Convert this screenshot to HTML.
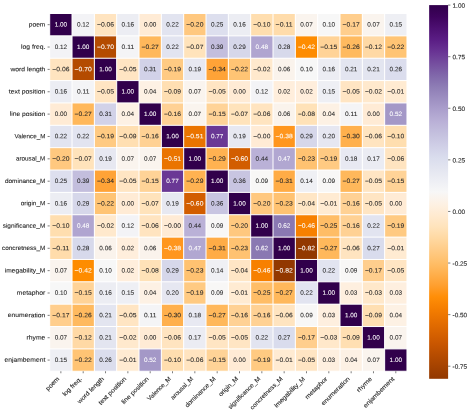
<!DOCTYPE html><html><head><meta charset="utf-8"><style>html,body{margin:0;padding:0;background:#fff;overflow:hidden;}svg{display:block;}text{font-family:"Liberation Sans",sans-serif;}</style></head><body>
<svg width="470" height="412" viewBox="0 0 470 412">
<defs><filter id="tb" x="0" y="0" width="470" height="412" filterUnits="userSpaceOnUse"><feGaussianBlur stdDeviation="0.400"/></filter></defs>
<rect width="470" height="412" fill="#fff"/>
<g>
<rect x="49.70" y="13.50" width="22.33" height="22.36" fill="#31004b"/>
<rect x="72.03" y="13.50" width="22.33" height="22.36" fill="#f3f3f6"/>
<rect x="94.36" y="13.50" width="22.33" height="22.36" fill="#ffe4c0"/>
<rect x="116.69" y="13.50" width="22.33" height="22.36" fill="#ecedf3"/>
<rect x="139.02" y="13.50" width="22.33" height="22.36" fill="#ffebd5"/>
<rect x="161.35" y="13.50" width="22.33" height="22.36" fill="#e2e4f0"/>
<rect x="183.68" y="13.50" width="22.33" height="22.36" fill="#ffc87f"/>
<rect x="206.01" y="13.50" width="22.33" height="22.36" fill="#dddfee"/>
<rect x="228.34" y="13.50" width="22.33" height="22.36" fill="#ecedf3"/>
<rect x="250.67" y="13.50" width="22.33" height="22.36" fill="#ffdeaf"/>
<rect x="273.00" y="13.50" width="22.33" height="22.36" fill="#ffdcab"/>
<rect x="295.33" y="13.50" width="22.33" height="22.36" fill="#faf4ee"/>
<rect x="317.66" y="13.50" width="22.33" height="22.36" fill="#f7f7f7"/>
<rect x="339.99" y="13.50" width="22.33" height="22.36" fill="#ffce8d"/>
<rect x="362.32" y="13.50" width="22.33" height="22.36" fill="#faf4ee"/>
<rect x="384.65" y="13.50" width="22.33" height="22.36" fill="#eeeff4"/>
<rect x="49.70" y="35.86" width="22.33" height="22.36" fill="#f3f3f6"/>
<rect x="72.03" y="35.86" width="22.33" height="22.36" fill="#31004b"/>
<rect x="94.36" y="35.86" width="22.33" height="22.36" fill="#b44b00"/>
<rect x="116.69" y="35.86" width="22.33" height="22.36" fill="#f4f4f6"/>
<rect x="139.02" y="35.86" width="22.33" height="22.36" fill="#ffb85b"/>
<rect x="161.35" y="35.86" width="22.33" height="22.36" fill="#e2e4f0"/>
<rect x="183.68" y="35.86" width="22.33" height="22.36" fill="#ffe3bb"/>
<rect x="206.01" y="35.86" width="22.33" height="22.36" fill="#c3bedd"/>
<rect x="228.34" y="35.86" width="22.33" height="22.36" fill="#d6d7ea"/>
<rect x="250.67" y="35.86" width="22.33" height="22.36" fill="#b0a5d0"/>
<rect x="273.00" y="35.86" width="22.33" height="22.36" fill="#d7d9eb"/>
<rect x="295.33" y="35.86" width="22.33" height="22.36" fill="#fe8c00"/>
<rect x="317.66" y="35.86" width="22.33" height="22.36" fill="#ffd397"/>
<rect x="339.99" y="35.86" width="22.33" height="22.36" fill="#ffba5f"/>
<rect x="362.32" y="35.86" width="22.33" height="22.36" fill="#ffd9a5"/>
<rect x="384.65" y="35.86" width="22.33" height="22.36" fill="#ffc474"/>
<rect x="49.70" y="58.22" width="22.33" height="22.36" fill="#ffe4c0"/>
<rect x="72.03" y="58.22" width="22.33" height="22.36" fill="#b44b00"/>
<rect x="94.36" y="58.22" width="22.33" height="22.36" fill="#31004b"/>
<rect x="116.69" y="58.22" width="22.33" height="22.36" fill="#ffe5c3"/>
<rect x="139.02" y="58.22" width="22.33" height="22.36" fill="#d2d2e8"/>
<rect x="161.35" y="58.22" width="22.33" height="22.36" fill="#ffca82"/>
<rect x="183.68" y="58.22" width="22.33" height="22.36" fill="#e7e8f1"/>
<rect x="206.01" y="58.22" width="22.33" height="22.36" fill="#ffa337"/>
<rect x="228.34" y="58.22" width="22.33" height="22.36" fill="#ffc474"/>
<rect x="250.67" y="58.22" width="22.33" height="22.36" fill="#ffe9cd"/>
<rect x="273.00" y="58.22" width="22.33" height="22.36" fill="#faf3ec"/>
<rect x="295.33" y="58.22" width="22.33" height="22.36" fill="#f7f7f7"/>
<rect x="317.66" y="58.22" width="22.33" height="22.36" fill="#ecedf3"/>
<rect x="339.99" y="58.22" width="22.33" height="22.36" fill="#e3e5f0"/>
<rect x="362.32" y="58.22" width="22.33" height="22.36" fill="#e3e5f0"/>
<rect x="384.65" y="58.22" width="22.33" height="22.36" fill="#dbdded"/>
<rect x="49.70" y="80.58" width="22.33" height="22.36" fill="#ecedf3"/>
<rect x="72.03" y="80.58" width="22.33" height="22.36" fill="#f4f4f6"/>
<rect x="94.36" y="80.58" width="22.33" height="22.36" fill="#ffe5c3"/>
<rect x="116.69" y="80.58" width="22.33" height="22.36" fill="#31004b"/>
<rect x="139.02" y="80.58" width="22.33" height="22.36" fill="#fdf1e4"/>
<rect x="161.35" y="80.58" width="22.33" height="22.36" fill="#ffdfb2"/>
<rect x="183.68" y="80.58" width="22.33" height="22.36" fill="#faf4ee"/>
<rect x="206.01" y="80.58" width="22.33" height="22.36" fill="#ffe5c3"/>
<rect x="228.34" y="80.58" width="22.33" height="22.36" fill="#ffebd5"/>
<rect x="250.67" y="80.58" width="22.33" height="22.36" fill="#f3f3f6"/>
<rect x="273.00" y="80.58" width="22.33" height="22.36" fill="#ffeedc"/>
<rect x="295.33" y="80.58" width="22.33" height="22.36" fill="#ffeedc"/>
<rect x="317.66" y="80.58" width="22.33" height="22.36" fill="#eeeff4"/>
<rect x="339.99" y="80.58" width="22.33" height="22.36" fill="#ffe5c3"/>
<rect x="362.32" y="80.58" width="22.33" height="22.36" fill="#ffe9cd"/>
<rect x="384.65" y="80.58" width="22.33" height="22.36" fill="#ffebd2"/>
<rect x="49.70" y="102.94" width="22.33" height="22.36" fill="#ffebd5"/>
<rect x="72.03" y="102.94" width="22.33" height="22.36" fill="#ffb85b"/>
<rect x="94.36" y="102.94" width="22.33" height="22.36" fill="#d2d2e8"/>
<rect x="116.69" y="102.94" width="22.33" height="22.36" fill="#fdf1e4"/>
<rect x="139.02" y="102.94" width="22.33" height="22.36" fill="#31004b"/>
<rect x="161.35" y="102.94" width="22.33" height="22.36" fill="#ffd194"/>
<rect x="183.68" y="102.94" width="22.33" height="22.36" fill="#faf4ee"/>
<rect x="206.01" y="102.94" width="22.33" height="22.36" fill="#ffd397"/>
<rect x="228.34" y="102.94" width="22.33" height="22.36" fill="#ffe3bb"/>
<rect x="250.67" y="102.94" width="22.33" height="22.36" fill="#ffe4c0"/>
<rect x="273.00" y="102.94" width="22.33" height="22.36" fill="#faf3ec"/>
<rect x="295.33" y="102.94" width="22.33" height="22.36" fill="#ffe2b8"/>
<rect x="317.66" y="102.94" width="22.33" height="22.36" fill="#fdf1e4"/>
<rect x="339.99" y="102.94" width="22.33" height="22.36" fill="#f4f4f6"/>
<rect x="362.32" y="102.94" width="22.33" height="22.36" fill="#ffebd5"/>
<rect x="384.65" y="102.94" width="22.33" height="22.36" fill="#a498c7"/>
<rect x="49.70" y="125.30" width="22.33" height="22.36" fill="#e2e4f0"/>
<rect x="72.03" y="125.30" width="22.33" height="22.36" fill="#e2e4f0"/>
<rect x="94.36" y="125.30" width="22.33" height="22.36" fill="#ffca82"/>
<rect x="116.69" y="125.30" width="22.33" height="22.36" fill="#ffdfb2"/>
<rect x="139.02" y="125.30" width="22.33" height="22.36" fill="#ffd194"/>
<rect x="161.35" y="125.30" width="22.33" height="22.36" fill="#31004b"/>
<rect x="183.68" y="125.30" width="22.33" height="22.36" fill="#ea7400"/>
<rect x="206.01" y="125.30" width="22.33" height="22.36" fill="#6a3895"/>
<rect x="228.34" y="125.30" width="22.33" height="22.36" fill="#e7e8f1"/>
<rect x="250.67" y="125.30" width="22.33" height="22.36" fill="#ffebd5"/>
<rect x="273.00" y="125.30" width="22.33" height="22.36" fill="#ff961e"/>
<rect x="295.33" y="125.30" width="22.33" height="22.36" fill="#d6d7ea"/>
<rect x="317.66" y="125.30" width="22.33" height="22.36" fill="#e6e7f1"/>
<rect x="339.99" y="125.30" width="22.33" height="22.36" fill="#ffb04d"/>
<rect x="362.32" y="125.30" width="22.33" height="22.36" fill="#ffe4c0"/>
<rect x="384.65" y="125.30" width="22.33" height="22.36" fill="#ffdeaf"/>
<rect x="49.70" y="147.66" width="22.33" height="22.36" fill="#ffc87f"/>
<rect x="72.03" y="147.66" width="22.33" height="22.36" fill="#ffe3bb"/>
<rect x="94.36" y="147.66" width="22.33" height="22.36" fill="#e7e8f1"/>
<rect x="116.69" y="147.66" width="22.33" height="22.36" fill="#faf4ee"/>
<rect x="139.02" y="147.66" width="22.33" height="22.36" fill="#faf4ee"/>
<rect x="161.35" y="147.66" width="22.33" height="22.36" fill="#ea7400"/>
<rect x="183.68" y="147.66" width="22.33" height="22.36" fill="#31004b"/>
<rect x="206.01" y="147.66" width="22.33" height="22.36" fill="#ffb251"/>
<rect x="228.34" y="147.66" width="22.33" height="22.36" fill="#d25d00"/>
<rect x="250.67" y="147.66" width="22.33" height="22.36" fill="#bab1d7"/>
<rect x="273.00" y="147.66" width="22.33" height="22.36" fill="#b1a7d1"/>
<rect x="295.33" y="147.66" width="22.33" height="22.36" fill="#ffc271"/>
<rect x="317.66" y="147.66" width="22.33" height="22.36" fill="#ffca82"/>
<rect x="339.99" y="147.66" width="22.33" height="22.36" fill="#e8e9f2"/>
<rect x="362.32" y="147.66" width="22.33" height="22.36" fill="#ebecf3"/>
<rect x="384.65" y="147.66" width="22.33" height="22.36" fill="#ffe4c0"/>
<rect x="49.70" y="170.02" width="22.33" height="22.36" fill="#dddfee"/>
<rect x="72.03" y="170.02" width="22.33" height="22.36" fill="#c3bedd"/>
<rect x="94.36" y="170.02" width="22.33" height="22.36" fill="#ffa337"/>
<rect x="116.69" y="170.02" width="22.33" height="22.36" fill="#ffe5c3"/>
<rect x="139.02" y="170.02" width="22.33" height="22.36" fill="#ffd397"/>
<rect x="161.35" y="170.02" width="22.33" height="22.36" fill="#6a3895"/>
<rect x="183.68" y="170.02" width="22.33" height="22.36" fill="#ffb251"/>
<rect x="206.01" y="170.02" width="22.33" height="22.36" fill="#31004b"/>
<rect x="228.34" y="170.02" width="22.33" height="22.36" fill="#c8c5e1"/>
<rect x="250.67" y="170.02" width="22.33" height="22.36" fill="#f8f7f6"/>
<rect x="273.00" y="170.02" width="22.33" height="22.36" fill="#ffac46"/>
<rect x="295.33" y="170.02" width="22.33" height="22.36" fill="#eff0f4"/>
<rect x="317.66" y="170.02" width="22.33" height="22.36" fill="#f8f7f6"/>
<rect x="339.99" y="170.02" width="22.33" height="22.36" fill="#ffb85b"/>
<rect x="362.32" y="170.02" width="22.33" height="22.36" fill="#ffe5c3"/>
<rect x="384.65" y="170.02" width="22.33" height="22.36" fill="#ffd397"/>
<rect x="49.70" y="192.38" width="22.33" height="22.36" fill="#ecedf3"/>
<rect x="72.03" y="192.38" width="22.33" height="22.36" fill="#d6d7ea"/>
<rect x="94.36" y="192.38" width="22.33" height="22.36" fill="#ffc474"/>
<rect x="116.69" y="192.38" width="22.33" height="22.36" fill="#ffebd5"/>
<rect x="139.02" y="192.38" width="22.33" height="22.36" fill="#ffe3bb"/>
<rect x="161.35" y="192.38" width="22.33" height="22.36" fill="#e7e8f1"/>
<rect x="183.68" y="192.38" width="22.33" height="22.36" fill="#d25d00"/>
<rect x="206.01" y="192.38" width="22.33" height="22.36" fill="#c8c5e1"/>
<rect x="228.34" y="192.38" width="22.33" height="22.36" fill="#31004b"/>
<rect x="250.67" y="192.38" width="22.33" height="22.36" fill="#ffc87f"/>
<rect x="273.00" y="192.38" width="22.33" height="22.36" fill="#ffc271"/>
<rect x="295.33" y="192.38" width="22.33" height="22.36" fill="#ffe6c5"/>
<rect x="317.66" y="192.38" width="22.33" height="22.36" fill="#ffebd2"/>
<rect x="339.99" y="192.38" width="22.33" height="22.36" fill="#ffd194"/>
<rect x="362.32" y="192.38" width="22.33" height="22.36" fill="#ffe5c3"/>
<rect x="384.65" y="192.38" width="22.33" height="22.36" fill="#ffebd5"/>
<rect x="49.70" y="214.74" width="22.33" height="22.36" fill="#ffdeaf"/>
<rect x="72.03" y="214.74" width="22.33" height="22.36" fill="#b0a5d0"/>
<rect x="94.36" y="214.74" width="22.33" height="22.36" fill="#ffe9cd"/>
<rect x="116.69" y="214.74" width="22.33" height="22.36" fill="#f3f3f6"/>
<rect x="139.02" y="214.74" width="22.33" height="22.36" fill="#ffe4c0"/>
<rect x="161.35" y="214.74" width="22.33" height="22.36" fill="#ffebd5"/>
<rect x="183.68" y="214.74" width="22.33" height="22.36" fill="#bab1d7"/>
<rect x="206.01" y="214.74" width="22.33" height="22.36" fill="#f8f7f6"/>
<rect x="228.34" y="214.74" width="22.33" height="22.36" fill="#ffc87f"/>
<rect x="250.67" y="214.74" width="22.33" height="22.36" fill="#31004b"/>
<rect x="273.00" y="214.74" width="22.33" height="22.36" fill="#8a78b2"/>
<rect x="295.33" y="214.74" width="22.33" height="22.36" fill="#f78000"/>
<rect x="317.66" y="214.74" width="22.33" height="22.36" fill="#ffbd66"/>
<rect x="339.99" y="214.74" width="22.33" height="22.36" fill="#ffd194"/>
<rect x="362.32" y="214.74" width="22.33" height="22.36" fill="#e2e4f0"/>
<rect x="384.65" y="214.74" width="22.33" height="22.36" fill="#ffca82"/>
<rect x="49.70" y="237.10" width="22.33" height="22.36" fill="#ffdcab"/>
<rect x="72.03" y="237.10" width="22.33" height="22.36" fill="#d7d9eb"/>
<rect x="94.36" y="237.10" width="22.33" height="22.36" fill="#faf3ec"/>
<rect x="116.69" y="237.10" width="22.33" height="22.36" fill="#ffeedc"/>
<rect x="139.02" y="237.10" width="22.33" height="22.36" fill="#faf3ec"/>
<rect x="161.35" y="237.10" width="22.33" height="22.36" fill="#ff961e"/>
<rect x="183.68" y="237.10" width="22.33" height="22.36" fill="#b1a7d1"/>
<rect x="206.01" y="237.10" width="22.33" height="22.36" fill="#ffac46"/>
<rect x="228.34" y="237.10" width="22.33" height="22.36" fill="#ffc271"/>
<rect x="250.67" y="237.10" width="22.33" height="22.36" fill="#8a78b2"/>
<rect x="273.00" y="237.10" width="22.33" height="22.36" fill="#31004b"/>
<rect x="295.33" y="237.10" width="22.33" height="22.36" fill="#923800"/>
<rect x="317.66" y="237.10" width="22.33" height="22.36" fill="#ffb85b"/>
<rect x="339.99" y="237.10" width="22.33" height="22.36" fill="#ffe4c0"/>
<rect x="362.32" y="237.10" width="22.33" height="22.36" fill="#d9dced"/>
<rect x="384.65" y="237.10" width="22.33" height="22.36" fill="#ffebd2"/>
<rect x="49.70" y="259.46" width="22.33" height="22.36" fill="#faf4ee"/>
<rect x="72.03" y="259.46" width="22.33" height="22.36" fill="#fe8c00"/>
<rect x="94.36" y="259.46" width="22.33" height="22.36" fill="#f7f7f7"/>
<rect x="116.69" y="259.46" width="22.33" height="22.36" fill="#ffeedc"/>
<rect x="139.02" y="259.46" width="22.33" height="22.36" fill="#ffe2b8"/>
<rect x="161.35" y="259.46" width="22.33" height="22.36" fill="#d6d7ea"/>
<rect x="183.68" y="259.46" width="22.33" height="22.36" fill="#ffc271"/>
<rect x="206.01" y="259.46" width="22.33" height="22.36" fill="#eff0f4"/>
<rect x="228.34" y="259.46" width="22.33" height="22.36" fill="#ffe6c5"/>
<rect x="250.67" y="259.46" width="22.33" height="22.36" fill="#f78000"/>
<rect x="273.00" y="259.46" width="22.33" height="22.36" fill="#923800"/>
<rect x="295.33" y="259.46" width="22.33" height="22.36" fill="#31004b"/>
<rect x="317.66" y="259.46" width="22.33" height="22.36" fill="#e2e4f0"/>
<rect x="339.99" y="259.46" width="22.33" height="22.36" fill="#f8f7f6"/>
<rect x="362.32" y="259.46" width="22.33" height="22.36" fill="#ffce8d"/>
<rect x="384.65" y="259.46" width="22.33" height="22.36" fill="#ffe5c3"/>
<rect x="49.70" y="281.82" width="22.33" height="22.36" fill="#f7f7f7"/>
<rect x="72.03" y="281.82" width="22.33" height="22.36" fill="#ffd397"/>
<rect x="94.36" y="281.82" width="22.33" height="22.36" fill="#ecedf3"/>
<rect x="116.69" y="281.82" width="22.33" height="22.36" fill="#eeeff4"/>
<rect x="139.02" y="281.82" width="22.33" height="22.36" fill="#fdf1e4"/>
<rect x="161.35" y="281.82" width="22.33" height="22.36" fill="#e6e7f1"/>
<rect x="183.68" y="281.82" width="22.33" height="22.36" fill="#ffca82"/>
<rect x="206.01" y="281.82" width="22.33" height="22.36" fill="#f8f7f6"/>
<rect x="228.34" y="281.82" width="22.33" height="22.36" fill="#ffebd2"/>
<rect x="250.67" y="281.82" width="22.33" height="22.36" fill="#ffbd66"/>
<rect x="273.00" y="281.82" width="22.33" height="22.36" fill="#ffb85b"/>
<rect x="295.33" y="281.82" width="22.33" height="22.36" fill="#e2e4f0"/>
<rect x="317.66" y="281.82" width="22.33" height="22.36" fill="#31004b"/>
<rect x="339.99" y="281.82" width="22.33" height="22.36" fill="#feefdf"/>
<rect x="362.32" y="281.82" width="22.33" height="22.36" fill="#ffe8ca"/>
<rect x="384.65" y="281.82" width="22.33" height="22.36" fill="#feefdf"/>
<rect x="49.70" y="304.18" width="22.33" height="22.36" fill="#ffce8d"/>
<rect x="72.03" y="304.18" width="22.33" height="22.36" fill="#ffba5f"/>
<rect x="94.36" y="304.18" width="22.33" height="22.36" fill="#e3e5f0"/>
<rect x="116.69" y="304.18" width="22.33" height="22.36" fill="#ffe5c3"/>
<rect x="139.02" y="304.18" width="22.33" height="22.36" fill="#f4f4f6"/>
<rect x="161.35" y="304.18" width="22.33" height="22.36" fill="#ffb04d"/>
<rect x="183.68" y="304.18" width="22.33" height="22.36" fill="#e8e9f2"/>
<rect x="206.01" y="304.18" width="22.33" height="22.36" fill="#ffb85b"/>
<rect x="228.34" y="304.18" width="22.33" height="22.36" fill="#ffd194"/>
<rect x="250.67" y="304.18" width="22.33" height="22.36" fill="#ffd194"/>
<rect x="273.00" y="304.18" width="22.33" height="22.36" fill="#ffe4c0"/>
<rect x="295.33" y="304.18" width="22.33" height="22.36" fill="#f8f7f6"/>
<rect x="317.66" y="304.18" width="22.33" height="22.36" fill="#feefdf"/>
<rect x="339.99" y="304.18" width="22.33" height="22.36" fill="#31004b"/>
<rect x="362.32" y="304.18" width="22.33" height="22.36" fill="#ffdfb2"/>
<rect x="384.65" y="304.18" width="22.33" height="22.36" fill="#fdf1e4"/>
<rect x="49.70" y="326.54" width="22.33" height="22.36" fill="#faf4ee"/>
<rect x="72.03" y="326.54" width="22.33" height="22.36" fill="#ffd9a5"/>
<rect x="94.36" y="326.54" width="22.33" height="22.36" fill="#e3e5f0"/>
<rect x="116.69" y="326.54" width="22.33" height="22.36" fill="#ffe9cd"/>
<rect x="139.02" y="326.54" width="22.33" height="22.36" fill="#ffebd5"/>
<rect x="161.35" y="326.54" width="22.33" height="22.36" fill="#ffe4c0"/>
<rect x="183.68" y="326.54" width="22.33" height="22.36" fill="#ebecf3"/>
<rect x="206.01" y="326.54" width="22.33" height="22.36" fill="#ffe5c3"/>
<rect x="228.34" y="326.54" width="22.33" height="22.36" fill="#ffe5c3"/>
<rect x="250.67" y="326.54" width="22.33" height="22.36" fill="#e2e4f0"/>
<rect x="273.00" y="326.54" width="22.33" height="22.36" fill="#d9dced"/>
<rect x="295.33" y="326.54" width="22.33" height="22.36" fill="#ffce8d"/>
<rect x="317.66" y="326.54" width="22.33" height="22.36" fill="#ffe8ca"/>
<rect x="339.99" y="326.54" width="22.33" height="22.36" fill="#ffdfb2"/>
<rect x="362.32" y="326.54" width="22.33" height="22.36" fill="#31004b"/>
<rect x="384.65" y="326.54" width="22.33" height="22.36" fill="#faf4ee"/>
<rect x="49.70" y="348.90" width="22.33" height="22.36" fill="#eeeff4"/>
<rect x="72.03" y="348.90" width="22.33" height="22.36" fill="#ffc474"/>
<rect x="94.36" y="348.90" width="22.33" height="22.36" fill="#dbdded"/>
<rect x="116.69" y="348.90" width="22.33" height="22.36" fill="#ffebd2"/>
<rect x="139.02" y="348.90" width="22.33" height="22.36" fill="#a498c7"/>
<rect x="161.35" y="348.90" width="22.33" height="22.36" fill="#ffdeaf"/>
<rect x="183.68" y="348.90" width="22.33" height="22.36" fill="#ffe4c0"/>
<rect x="206.01" y="348.90" width="22.33" height="22.36" fill="#ffd397"/>
<rect x="228.34" y="348.90" width="22.33" height="22.36" fill="#ffebd5"/>
<rect x="250.67" y="348.90" width="22.33" height="22.36" fill="#ffca82"/>
<rect x="273.00" y="348.90" width="22.33" height="22.36" fill="#ffebd2"/>
<rect x="295.33" y="348.90" width="22.33" height="22.36" fill="#ffe5c3"/>
<rect x="317.66" y="348.90" width="22.33" height="22.36" fill="#feefdf"/>
<rect x="339.99" y="348.90" width="22.33" height="22.36" fill="#fdf1e4"/>
<rect x="362.32" y="348.90" width="22.33" height="22.36" fill="#faf4ee"/>
<rect x="384.65" y="348.90" width="22.33" height="22.36" fill="#31004b"/>
</g>
<g stroke="#fff" stroke-width="1.00">
<line x1="49.70" y1="13.00" x2="49.70" y2="371.76"/>
<line x1="49.20" y1="13.50" x2="407.48" y2="13.50"/>
<line x1="72.03" y1="13.00" x2="72.03" y2="371.76"/>
<line x1="49.20" y1="35.86" x2="407.48" y2="35.86"/>
<line x1="94.36" y1="13.00" x2="94.36" y2="371.76"/>
<line x1="49.20" y1="58.22" x2="407.48" y2="58.22"/>
<line x1="116.69" y1="13.00" x2="116.69" y2="371.76"/>
<line x1="49.20" y1="80.58" x2="407.48" y2="80.58"/>
<line x1="139.02" y1="13.00" x2="139.02" y2="371.76"/>
<line x1="49.20" y1="102.94" x2="407.48" y2="102.94"/>
<line x1="161.35" y1="13.00" x2="161.35" y2="371.76"/>
<line x1="49.20" y1="125.30" x2="407.48" y2="125.30"/>
<line x1="183.68" y1="13.00" x2="183.68" y2="371.76"/>
<line x1="49.20" y1="147.66" x2="407.48" y2="147.66"/>
<line x1="206.01" y1="13.00" x2="206.01" y2="371.76"/>
<line x1="49.20" y1="170.02" x2="407.48" y2="170.02"/>
<line x1="228.34" y1="13.00" x2="228.34" y2="371.76"/>
<line x1="49.20" y1="192.38" x2="407.48" y2="192.38"/>
<line x1="250.67" y1="13.00" x2="250.67" y2="371.76"/>
<line x1="49.20" y1="214.74" x2="407.48" y2="214.74"/>
<line x1="273.00" y1="13.00" x2="273.00" y2="371.76"/>
<line x1="49.20" y1="237.10" x2="407.48" y2="237.10"/>
<line x1="295.33" y1="13.00" x2="295.33" y2="371.76"/>
<line x1="49.20" y1="259.46" x2="407.48" y2="259.46"/>
<line x1="317.66" y1="13.00" x2="317.66" y2="371.76"/>
<line x1="49.20" y1="281.82" x2="407.48" y2="281.82"/>
<line x1="339.99" y1="13.00" x2="339.99" y2="371.76"/>
<line x1="49.20" y1="304.18" x2="407.48" y2="304.18"/>
<line x1="362.32" y1="13.00" x2="362.32" y2="371.76"/>
<line x1="49.20" y1="326.54" x2="407.48" y2="326.54"/>
<line x1="384.65" y1="13.00" x2="384.65" y2="371.76"/>
<line x1="49.20" y1="348.90" x2="407.48" y2="348.90"/>
<line x1="406.98" y1="13.00" x2="406.98" y2="371.76"/>
<line x1="49.20" y1="371.26" x2="407.48" y2="371.26"/>
</g>
<g font-size="6.30" stroke-width="0.06" filter="url(#tb)">
<text transform="translate(54.63 26.53) rotate(0.05)" fill="#ffffff" stroke="#ffffff" textLength="12.47" lengthAdjust="spacingAndGlyphs">1.00</text>
<text transform="translate(76.96 26.53) rotate(0.05)" fill="#262626" stroke="#262626" textLength="12.47" lengthAdjust="spacingAndGlyphs">0.12</text>
<text transform="translate(96.94 26.53) rotate(0.05)" fill="#262626" stroke="#262626" textLength="17.16" lengthAdjust="spacingAndGlyphs">−0.06</text>
<text transform="translate(121.62 26.53) rotate(0.05)" fill="#262626" stroke="#262626" textLength="12.47" lengthAdjust="spacingAndGlyphs">0.16</text>
<text transform="translate(143.95 26.53) rotate(0.05)" fill="#262626" stroke="#262626" textLength="12.47" lengthAdjust="spacingAndGlyphs">0.00</text>
<text transform="translate(166.28 26.53) rotate(0.05)" fill="#262626" stroke="#262626" textLength="12.47" lengthAdjust="spacingAndGlyphs">0.22</text>
<text transform="translate(186.26 26.53) rotate(0.05)" fill="#262626" stroke="#262626" textLength="17.16" lengthAdjust="spacingAndGlyphs">−0.20</text>
<text transform="translate(210.94 26.53) rotate(0.05)" fill="#262626" stroke="#262626" textLength="12.47" lengthAdjust="spacingAndGlyphs">0.25</text>
<text transform="translate(233.27 26.53) rotate(0.05)" fill="#262626" stroke="#262626" textLength="12.47" lengthAdjust="spacingAndGlyphs">0.16</text>
<text transform="translate(253.25 26.53) rotate(0.05)" fill="#262626" stroke="#262626" textLength="17.16" lengthAdjust="spacingAndGlyphs">−0.10</text>
<text transform="translate(275.58 26.53) rotate(0.05)" fill="#262626" stroke="#262626" textLength="17.16" lengthAdjust="spacingAndGlyphs">−0.11</text>
<text transform="translate(300.26 26.53) rotate(0.05)" fill="#262626" stroke="#262626" textLength="12.47" lengthAdjust="spacingAndGlyphs">0.07</text>
<text transform="translate(322.59 26.53) rotate(0.05)" fill="#262626" stroke="#262626" textLength="12.47" lengthAdjust="spacingAndGlyphs">0.10</text>
<text transform="translate(342.57 26.53) rotate(0.05)" fill="#262626" stroke="#262626" textLength="17.16" lengthAdjust="spacingAndGlyphs">−0.17</text>
<text transform="translate(367.25 26.53) rotate(0.05)" fill="#262626" stroke="#262626" textLength="12.47" lengthAdjust="spacingAndGlyphs">0.07</text>
<text transform="translate(389.58 26.53) rotate(0.05)" fill="#262626" stroke="#262626" textLength="12.47" lengthAdjust="spacingAndGlyphs">0.15</text>
<text transform="translate(54.63 48.89) rotate(0.05)" fill="#262626" stroke="#262626" textLength="12.47" lengthAdjust="spacingAndGlyphs">0.12</text>
<text transform="translate(76.96 48.89) rotate(0.05)" fill="#ffffff" stroke="#ffffff" textLength="12.47" lengthAdjust="spacingAndGlyphs">1.00</text>
<text transform="translate(96.94 48.89) rotate(0.05)" fill="#ffffff" stroke="#ffffff" textLength="17.16" lengthAdjust="spacingAndGlyphs">−0.70</text>
<text transform="translate(121.62 48.89) rotate(0.05)" fill="#262626" stroke="#262626" textLength="12.47" lengthAdjust="spacingAndGlyphs">0.11</text>
<text transform="translate(141.60 48.89) rotate(0.05)" fill="#262626" stroke="#262626" textLength="17.16" lengthAdjust="spacingAndGlyphs">−0.27</text>
<text transform="translate(166.28 48.89) rotate(0.05)" fill="#262626" stroke="#262626" textLength="12.47" lengthAdjust="spacingAndGlyphs">0.22</text>
<text transform="translate(186.26 48.89) rotate(0.05)" fill="#262626" stroke="#262626" textLength="17.16" lengthAdjust="spacingAndGlyphs">−0.07</text>
<text transform="translate(210.94 48.89) rotate(0.05)" fill="#262626" stroke="#262626" textLength="12.47" lengthAdjust="spacingAndGlyphs">0.39</text>
<text transform="translate(233.27 48.89) rotate(0.05)" fill="#262626" stroke="#262626" textLength="12.47" lengthAdjust="spacingAndGlyphs">0.29</text>
<text transform="translate(255.60 48.89) rotate(0.05)" fill="#ffffff" stroke="#ffffff" textLength="12.47" lengthAdjust="spacingAndGlyphs">0.48</text>
<text transform="translate(277.93 48.89) rotate(0.05)" fill="#262626" stroke="#262626" textLength="12.47" lengthAdjust="spacingAndGlyphs">0.28</text>
<text transform="translate(297.91 48.89) rotate(0.05)" fill="#ffffff" stroke="#ffffff" textLength="17.16" lengthAdjust="spacingAndGlyphs">−0.42</text>
<text transform="translate(320.24 48.89) rotate(0.05)" fill="#262626" stroke="#262626" textLength="17.16" lengthAdjust="spacingAndGlyphs">−0.15</text>
<text transform="translate(342.57 48.89) rotate(0.05)" fill="#262626" stroke="#262626" textLength="17.16" lengthAdjust="spacingAndGlyphs">−0.26</text>
<text transform="translate(364.90 48.89) rotate(0.05)" fill="#262626" stroke="#262626" textLength="17.16" lengthAdjust="spacingAndGlyphs">−0.12</text>
<text transform="translate(387.23 48.89) rotate(0.05)" fill="#262626" stroke="#262626" textLength="17.16" lengthAdjust="spacingAndGlyphs">−0.22</text>
<text transform="translate(52.28 71.25) rotate(0.05)" fill="#262626" stroke="#262626" textLength="17.16" lengthAdjust="spacingAndGlyphs">−0.06</text>
<text transform="translate(74.61 71.25) rotate(0.05)" fill="#ffffff" stroke="#ffffff" textLength="17.16" lengthAdjust="spacingAndGlyphs">−0.70</text>
<text transform="translate(99.29 71.25) rotate(0.05)" fill="#ffffff" stroke="#ffffff" textLength="12.47" lengthAdjust="spacingAndGlyphs">1.00</text>
<text transform="translate(119.27 71.25) rotate(0.05)" fill="#262626" stroke="#262626" textLength="17.16" lengthAdjust="spacingAndGlyphs">−0.05</text>
<text transform="translate(143.95 71.25) rotate(0.05)" fill="#262626" stroke="#262626" textLength="12.47" lengthAdjust="spacingAndGlyphs">0.31</text>
<text transform="translate(163.93 71.25) rotate(0.05)" fill="#262626" stroke="#262626" textLength="17.16" lengthAdjust="spacingAndGlyphs">−0.19</text>
<text transform="translate(188.61 71.25) rotate(0.05)" fill="#262626" stroke="#262626" textLength="12.47" lengthAdjust="spacingAndGlyphs">0.19</text>
<text transform="translate(208.59 71.25) rotate(0.05)" fill="#262626" stroke="#262626" textLength="17.16" lengthAdjust="spacingAndGlyphs">−0.34</text>
<text transform="translate(230.92 71.25) rotate(0.05)" fill="#262626" stroke="#262626" textLength="17.16" lengthAdjust="spacingAndGlyphs">−0.22</text>
<text transform="translate(253.25 71.25) rotate(0.05)" fill="#262626" stroke="#262626" textLength="17.16" lengthAdjust="spacingAndGlyphs">−0.02</text>
<text transform="translate(277.93 71.25) rotate(0.05)" fill="#262626" stroke="#262626" textLength="12.47" lengthAdjust="spacingAndGlyphs">0.06</text>
<text transform="translate(300.26 71.25) rotate(0.05)" fill="#262626" stroke="#262626" textLength="12.47" lengthAdjust="spacingAndGlyphs">0.10</text>
<text transform="translate(322.59 71.25) rotate(0.05)" fill="#262626" stroke="#262626" textLength="12.47" lengthAdjust="spacingAndGlyphs">0.16</text>
<text transform="translate(344.92 71.25) rotate(0.05)" fill="#262626" stroke="#262626" textLength="12.47" lengthAdjust="spacingAndGlyphs">0.21</text>
<text transform="translate(367.25 71.25) rotate(0.05)" fill="#262626" stroke="#262626" textLength="12.47" lengthAdjust="spacingAndGlyphs">0.21</text>
<text transform="translate(389.58 71.25) rotate(0.05)" fill="#262626" stroke="#262626" textLength="12.47" lengthAdjust="spacingAndGlyphs">0.26</text>
<text transform="translate(54.63 93.61) rotate(0.05)" fill="#262626" stroke="#262626" textLength="12.47" lengthAdjust="spacingAndGlyphs">0.16</text>
<text transform="translate(76.96 93.61) rotate(0.05)" fill="#262626" stroke="#262626" textLength="12.47" lengthAdjust="spacingAndGlyphs">0.11</text>
<text transform="translate(96.94 93.61) rotate(0.05)" fill="#262626" stroke="#262626" textLength="17.16" lengthAdjust="spacingAndGlyphs">−0.05</text>
<text transform="translate(121.62 93.61) rotate(0.05)" fill="#ffffff" stroke="#ffffff" textLength="12.47" lengthAdjust="spacingAndGlyphs">1.00</text>
<text transform="translate(143.95 93.61) rotate(0.05)" fill="#262626" stroke="#262626" textLength="12.47" lengthAdjust="spacingAndGlyphs">0.04</text>
<text transform="translate(163.93 93.61) rotate(0.05)" fill="#262626" stroke="#262626" textLength="17.16" lengthAdjust="spacingAndGlyphs">−0.09</text>
<text transform="translate(188.61 93.61) rotate(0.05)" fill="#262626" stroke="#262626" textLength="12.47" lengthAdjust="spacingAndGlyphs">0.07</text>
<text transform="translate(208.59 93.61) rotate(0.05)" fill="#262626" stroke="#262626" textLength="17.16" lengthAdjust="spacingAndGlyphs">−0.05</text>
<text transform="translate(233.27 93.61) rotate(0.05)" fill="#262626" stroke="#262626" textLength="12.47" lengthAdjust="spacingAndGlyphs">0.00</text>
<text transform="translate(255.60 93.61) rotate(0.05)" fill="#262626" stroke="#262626" textLength="12.47" lengthAdjust="spacingAndGlyphs">0.12</text>
<text transform="translate(277.93 93.61) rotate(0.05)" fill="#262626" stroke="#262626" textLength="12.47" lengthAdjust="spacingAndGlyphs">0.02</text>
<text transform="translate(300.26 93.61) rotate(0.05)" fill="#262626" stroke="#262626" textLength="12.47" lengthAdjust="spacingAndGlyphs">0.02</text>
<text transform="translate(322.59 93.61) rotate(0.05)" fill="#262626" stroke="#262626" textLength="12.47" lengthAdjust="spacingAndGlyphs">0.15</text>
<text transform="translate(342.57 93.61) rotate(0.05)" fill="#262626" stroke="#262626" textLength="17.16" lengthAdjust="spacingAndGlyphs">−0.05</text>
<text transform="translate(364.90 93.61) rotate(0.05)" fill="#262626" stroke="#262626" textLength="17.16" lengthAdjust="spacingAndGlyphs">−0.02</text>
<text transform="translate(387.23 93.61) rotate(0.05)" fill="#262626" stroke="#262626" textLength="17.16" lengthAdjust="spacingAndGlyphs">−0.01</text>
<text transform="translate(54.63 115.97) rotate(0.05)" fill="#262626" stroke="#262626" textLength="12.47" lengthAdjust="spacingAndGlyphs">0.00</text>
<text transform="translate(74.61 115.97) rotate(0.05)" fill="#262626" stroke="#262626" textLength="17.16" lengthAdjust="spacingAndGlyphs">−0.27</text>
<text transform="translate(99.29 115.97) rotate(0.05)" fill="#262626" stroke="#262626" textLength="12.47" lengthAdjust="spacingAndGlyphs">0.31</text>
<text transform="translate(121.62 115.97) rotate(0.05)" fill="#262626" stroke="#262626" textLength="12.47" lengthAdjust="spacingAndGlyphs">0.04</text>
<text transform="translate(143.95 115.97) rotate(0.05)" fill="#ffffff" stroke="#ffffff" textLength="12.47" lengthAdjust="spacingAndGlyphs">1.00</text>
<text transform="translate(163.93 115.97) rotate(0.05)" fill="#262626" stroke="#262626" textLength="17.16" lengthAdjust="spacingAndGlyphs">−0.16</text>
<text transform="translate(188.61 115.97) rotate(0.05)" fill="#262626" stroke="#262626" textLength="12.47" lengthAdjust="spacingAndGlyphs">0.07</text>
<text transform="translate(208.59 115.97) rotate(0.05)" fill="#262626" stroke="#262626" textLength="17.16" lengthAdjust="spacingAndGlyphs">−0.15</text>
<text transform="translate(230.92 115.97) rotate(0.05)" fill="#262626" stroke="#262626" textLength="17.16" lengthAdjust="spacingAndGlyphs">−0.07</text>
<text transform="translate(253.25 115.97) rotate(0.05)" fill="#262626" stroke="#262626" textLength="17.16" lengthAdjust="spacingAndGlyphs">−0.06</text>
<text transform="translate(277.93 115.97) rotate(0.05)" fill="#262626" stroke="#262626" textLength="12.47" lengthAdjust="spacingAndGlyphs">0.06</text>
<text transform="translate(297.91 115.97) rotate(0.05)" fill="#262626" stroke="#262626" textLength="17.16" lengthAdjust="spacingAndGlyphs">−0.08</text>
<text transform="translate(322.59 115.97) rotate(0.05)" fill="#262626" stroke="#262626" textLength="12.47" lengthAdjust="spacingAndGlyphs">0.04</text>
<text transform="translate(344.92 115.97) rotate(0.05)" fill="#262626" stroke="#262626" textLength="12.47" lengthAdjust="spacingAndGlyphs">0.11</text>
<text transform="translate(367.25 115.97) rotate(0.05)" fill="#262626" stroke="#262626" textLength="12.47" lengthAdjust="spacingAndGlyphs">0.00</text>
<text transform="translate(389.58 115.97) rotate(0.05)" fill="#ffffff" stroke="#ffffff" textLength="12.47" lengthAdjust="spacingAndGlyphs">0.52</text>
<text transform="translate(54.63 138.33) rotate(0.05)" fill="#262626" stroke="#262626" textLength="12.47" lengthAdjust="spacingAndGlyphs">0.22</text>
<text transform="translate(76.96 138.33) rotate(0.05)" fill="#262626" stroke="#262626" textLength="12.47" lengthAdjust="spacingAndGlyphs">0.22</text>
<text transform="translate(96.94 138.33) rotate(0.05)" fill="#262626" stroke="#262626" textLength="17.16" lengthAdjust="spacingAndGlyphs">−0.19</text>
<text transform="translate(119.27 138.33) rotate(0.05)" fill="#262626" stroke="#262626" textLength="17.16" lengthAdjust="spacingAndGlyphs">−0.09</text>
<text transform="translate(141.60 138.33) rotate(0.05)" fill="#262626" stroke="#262626" textLength="17.16" lengthAdjust="spacingAndGlyphs">−0.16</text>
<text transform="translate(166.28 138.33) rotate(0.05)" fill="#ffffff" stroke="#ffffff" textLength="12.47" lengthAdjust="spacingAndGlyphs">1.00</text>
<text transform="translate(186.26 138.33) rotate(0.05)" fill="#ffffff" stroke="#ffffff" textLength="17.16" lengthAdjust="spacingAndGlyphs">−0.51</text>
<text transform="translate(210.94 138.33) rotate(0.05)" fill="#ffffff" stroke="#ffffff" textLength="12.47" lengthAdjust="spacingAndGlyphs">0.77</text>
<text transform="translate(233.27 138.33) rotate(0.05)" fill="#262626" stroke="#262626" textLength="12.47" lengthAdjust="spacingAndGlyphs">0.19</text>
<text transform="translate(253.25 138.33) rotate(0.05)" fill="#262626" stroke="#262626" textLength="17.16" lengthAdjust="spacingAndGlyphs">−0.00</text>
<text transform="translate(275.58 138.33) rotate(0.05)" fill="#ffffff" stroke="#ffffff" textLength="17.16" lengthAdjust="spacingAndGlyphs">−0.38</text>
<text transform="translate(300.26 138.33) rotate(0.05)" fill="#262626" stroke="#262626" textLength="12.47" lengthAdjust="spacingAndGlyphs">0.29</text>
<text transform="translate(322.59 138.33) rotate(0.05)" fill="#262626" stroke="#262626" textLength="12.47" lengthAdjust="spacingAndGlyphs">0.20</text>
<text transform="translate(342.57 138.33) rotate(0.05)" fill="#262626" stroke="#262626" textLength="17.16" lengthAdjust="spacingAndGlyphs">−0.30</text>
<text transform="translate(364.90 138.33) rotate(0.05)" fill="#262626" stroke="#262626" textLength="17.16" lengthAdjust="spacingAndGlyphs">−0.06</text>
<text transform="translate(387.23 138.33) rotate(0.05)" fill="#262626" stroke="#262626" textLength="17.16" lengthAdjust="spacingAndGlyphs">−0.10</text>
<text transform="translate(52.28 160.69) rotate(0.05)" fill="#262626" stroke="#262626" textLength="17.16" lengthAdjust="spacingAndGlyphs">−0.20</text>
<text transform="translate(74.61 160.69) rotate(0.05)" fill="#262626" stroke="#262626" textLength="17.16" lengthAdjust="spacingAndGlyphs">−0.07</text>
<text transform="translate(99.29 160.69) rotate(0.05)" fill="#262626" stroke="#262626" textLength="12.47" lengthAdjust="spacingAndGlyphs">0.19</text>
<text transform="translate(121.62 160.69) rotate(0.05)" fill="#262626" stroke="#262626" textLength="12.47" lengthAdjust="spacingAndGlyphs">0.07</text>
<text transform="translate(143.95 160.69) rotate(0.05)" fill="#262626" stroke="#262626" textLength="12.47" lengthAdjust="spacingAndGlyphs">0.07</text>
<text transform="translate(163.93 160.69) rotate(0.05)" fill="#ffffff" stroke="#ffffff" textLength="17.16" lengthAdjust="spacingAndGlyphs">−0.51</text>
<text transform="translate(188.61 160.69) rotate(0.05)" fill="#ffffff" stroke="#ffffff" textLength="12.47" lengthAdjust="spacingAndGlyphs">1.00</text>
<text transform="translate(208.59 160.69) rotate(0.05)" fill="#262626" stroke="#262626" textLength="17.16" lengthAdjust="spacingAndGlyphs">−0.29</text>
<text transform="translate(230.92 160.69) rotate(0.05)" fill="#ffffff" stroke="#ffffff" textLength="17.16" lengthAdjust="spacingAndGlyphs">−0.60</text>
<text transform="translate(255.60 160.69) rotate(0.05)" fill="#262626" stroke="#262626" textLength="12.47" lengthAdjust="spacingAndGlyphs">0.44</text>
<text transform="translate(277.93 160.69) rotate(0.05)" fill="#ffffff" stroke="#ffffff" textLength="12.47" lengthAdjust="spacingAndGlyphs">0.47</text>
<text transform="translate(297.91 160.69) rotate(0.05)" fill="#262626" stroke="#262626" textLength="17.16" lengthAdjust="spacingAndGlyphs">−0.23</text>
<text transform="translate(320.24 160.69) rotate(0.05)" fill="#262626" stroke="#262626" textLength="17.16" lengthAdjust="spacingAndGlyphs">−0.19</text>
<text transform="translate(344.92 160.69) rotate(0.05)" fill="#262626" stroke="#262626" textLength="12.47" lengthAdjust="spacingAndGlyphs">0.18</text>
<text transform="translate(367.25 160.69) rotate(0.05)" fill="#262626" stroke="#262626" textLength="12.47" lengthAdjust="spacingAndGlyphs">0.17</text>
<text transform="translate(387.23 160.69) rotate(0.05)" fill="#262626" stroke="#262626" textLength="17.16" lengthAdjust="spacingAndGlyphs">−0.06</text>
<text transform="translate(54.63 183.05) rotate(0.05)" fill="#262626" stroke="#262626" textLength="12.47" lengthAdjust="spacingAndGlyphs">0.25</text>
<text transform="translate(76.96 183.05) rotate(0.05)" fill="#262626" stroke="#262626" textLength="12.47" lengthAdjust="spacingAndGlyphs">0.39</text>
<text transform="translate(96.94 183.05) rotate(0.05)" fill="#262626" stroke="#262626" textLength="17.16" lengthAdjust="spacingAndGlyphs">−0.34</text>
<text transform="translate(119.27 183.05) rotate(0.05)" fill="#262626" stroke="#262626" textLength="17.16" lengthAdjust="spacingAndGlyphs">−0.05</text>
<text transform="translate(141.60 183.05) rotate(0.05)" fill="#262626" stroke="#262626" textLength="17.16" lengthAdjust="spacingAndGlyphs">−0.15</text>
<text transform="translate(166.28 183.05) rotate(0.05)" fill="#ffffff" stroke="#ffffff" textLength="12.47" lengthAdjust="spacingAndGlyphs">0.77</text>
<text transform="translate(186.26 183.05) rotate(0.05)" fill="#262626" stroke="#262626" textLength="17.16" lengthAdjust="spacingAndGlyphs">−0.29</text>
<text transform="translate(210.94 183.05) rotate(0.05)" fill="#ffffff" stroke="#ffffff" textLength="12.47" lengthAdjust="spacingAndGlyphs">1.00</text>
<text transform="translate(233.27 183.05) rotate(0.05)" fill="#262626" stroke="#262626" textLength="12.47" lengthAdjust="spacingAndGlyphs">0.36</text>
<text transform="translate(255.60 183.05) rotate(0.05)" fill="#262626" stroke="#262626" textLength="12.47" lengthAdjust="spacingAndGlyphs">0.09</text>
<text transform="translate(275.58 183.05) rotate(0.05)" fill="#262626" stroke="#262626" textLength="17.16" lengthAdjust="spacingAndGlyphs">−0.31</text>
<text transform="translate(300.26 183.05) rotate(0.05)" fill="#262626" stroke="#262626" textLength="12.47" lengthAdjust="spacingAndGlyphs">0.14</text>
<text transform="translate(322.59 183.05) rotate(0.05)" fill="#262626" stroke="#262626" textLength="12.47" lengthAdjust="spacingAndGlyphs">0.09</text>
<text transform="translate(342.57 183.05) rotate(0.05)" fill="#262626" stroke="#262626" textLength="17.16" lengthAdjust="spacingAndGlyphs">−0.27</text>
<text transform="translate(364.90 183.05) rotate(0.05)" fill="#262626" stroke="#262626" textLength="17.16" lengthAdjust="spacingAndGlyphs">−0.05</text>
<text transform="translate(387.23 183.05) rotate(0.05)" fill="#262626" stroke="#262626" textLength="17.16" lengthAdjust="spacingAndGlyphs">−0.15</text>
<text transform="translate(54.63 205.41) rotate(0.05)" fill="#262626" stroke="#262626" textLength="12.47" lengthAdjust="spacingAndGlyphs">0.16</text>
<text transform="translate(76.96 205.41) rotate(0.05)" fill="#262626" stroke="#262626" textLength="12.47" lengthAdjust="spacingAndGlyphs">0.29</text>
<text transform="translate(96.94 205.41) rotate(0.05)" fill="#262626" stroke="#262626" textLength="17.16" lengthAdjust="spacingAndGlyphs">−0.22</text>
<text transform="translate(121.62 205.41) rotate(0.05)" fill="#262626" stroke="#262626" textLength="12.47" lengthAdjust="spacingAndGlyphs">0.00</text>
<text transform="translate(141.60 205.41) rotate(0.05)" fill="#262626" stroke="#262626" textLength="17.16" lengthAdjust="spacingAndGlyphs">−0.07</text>
<text transform="translate(166.28 205.41) rotate(0.05)" fill="#262626" stroke="#262626" textLength="12.47" lengthAdjust="spacingAndGlyphs">0.19</text>
<text transform="translate(186.26 205.41) rotate(0.05)" fill="#ffffff" stroke="#ffffff" textLength="17.16" lengthAdjust="spacingAndGlyphs">−0.60</text>
<text transform="translate(210.94 205.41) rotate(0.05)" fill="#262626" stroke="#262626" textLength="12.47" lengthAdjust="spacingAndGlyphs">0.36</text>
<text transform="translate(233.27 205.41) rotate(0.05)" fill="#ffffff" stroke="#ffffff" textLength="12.47" lengthAdjust="spacingAndGlyphs">1.00</text>
<text transform="translate(253.25 205.41) rotate(0.05)" fill="#262626" stroke="#262626" textLength="17.16" lengthAdjust="spacingAndGlyphs">−0.20</text>
<text transform="translate(275.58 205.41) rotate(0.05)" fill="#262626" stroke="#262626" textLength="17.16" lengthAdjust="spacingAndGlyphs">−0.23</text>
<text transform="translate(297.91 205.41) rotate(0.05)" fill="#262626" stroke="#262626" textLength="17.16" lengthAdjust="spacingAndGlyphs">−0.04</text>
<text transform="translate(320.24 205.41) rotate(0.05)" fill="#262626" stroke="#262626" textLength="17.16" lengthAdjust="spacingAndGlyphs">−0.01</text>
<text transform="translate(342.57 205.41) rotate(0.05)" fill="#262626" stroke="#262626" textLength="17.16" lengthAdjust="spacingAndGlyphs">−0.16</text>
<text transform="translate(364.90 205.41) rotate(0.05)" fill="#262626" stroke="#262626" textLength="17.16" lengthAdjust="spacingAndGlyphs">−0.05</text>
<text transform="translate(389.58 205.41) rotate(0.05)" fill="#262626" stroke="#262626" textLength="12.47" lengthAdjust="spacingAndGlyphs">0.00</text>
<text transform="translate(52.28 227.77) rotate(0.05)" fill="#262626" stroke="#262626" textLength="17.16" lengthAdjust="spacingAndGlyphs">−0.10</text>
<text transform="translate(76.96 227.77) rotate(0.05)" fill="#ffffff" stroke="#ffffff" textLength="12.47" lengthAdjust="spacingAndGlyphs">0.48</text>
<text transform="translate(96.94 227.77) rotate(0.05)" fill="#262626" stroke="#262626" textLength="17.16" lengthAdjust="spacingAndGlyphs">−0.02</text>
<text transform="translate(121.62 227.77) rotate(0.05)" fill="#262626" stroke="#262626" textLength="12.47" lengthAdjust="spacingAndGlyphs">0.12</text>
<text transform="translate(141.60 227.77) rotate(0.05)" fill="#262626" stroke="#262626" textLength="17.16" lengthAdjust="spacingAndGlyphs">−0.06</text>
<text transform="translate(163.93 227.77) rotate(0.05)" fill="#262626" stroke="#262626" textLength="17.16" lengthAdjust="spacingAndGlyphs">−0.00</text>
<text transform="translate(188.61 227.77) rotate(0.05)" fill="#262626" stroke="#262626" textLength="12.47" lengthAdjust="spacingAndGlyphs">0.44</text>
<text transform="translate(210.94 227.77) rotate(0.05)" fill="#262626" stroke="#262626" textLength="12.47" lengthAdjust="spacingAndGlyphs">0.09</text>
<text transform="translate(230.92 227.77) rotate(0.05)" fill="#262626" stroke="#262626" textLength="17.16" lengthAdjust="spacingAndGlyphs">−0.20</text>
<text transform="translate(255.60 227.77) rotate(0.05)" fill="#ffffff" stroke="#ffffff" textLength="12.47" lengthAdjust="spacingAndGlyphs">1.00</text>
<text transform="translate(277.93 227.77) rotate(0.05)" fill="#ffffff" stroke="#ffffff" textLength="12.47" lengthAdjust="spacingAndGlyphs">0.62</text>
<text transform="translate(297.91 227.77) rotate(0.05)" fill="#ffffff" stroke="#ffffff" textLength="17.16" lengthAdjust="spacingAndGlyphs">−0.46</text>
<text transform="translate(320.24 227.77) rotate(0.05)" fill="#262626" stroke="#262626" textLength="17.16" lengthAdjust="spacingAndGlyphs">−0.25</text>
<text transform="translate(342.57 227.77) rotate(0.05)" fill="#262626" stroke="#262626" textLength="17.16" lengthAdjust="spacingAndGlyphs">−0.16</text>
<text transform="translate(367.25 227.77) rotate(0.05)" fill="#262626" stroke="#262626" textLength="12.47" lengthAdjust="spacingAndGlyphs">0.22</text>
<text transform="translate(387.23 227.77) rotate(0.05)" fill="#262626" stroke="#262626" textLength="17.16" lengthAdjust="spacingAndGlyphs">−0.19</text>
<text transform="translate(52.28 250.13) rotate(0.05)" fill="#262626" stroke="#262626" textLength="17.16" lengthAdjust="spacingAndGlyphs">−0.11</text>
<text transform="translate(76.96 250.13) rotate(0.05)" fill="#262626" stroke="#262626" textLength="12.47" lengthAdjust="spacingAndGlyphs">0.28</text>
<text transform="translate(99.29 250.13) rotate(0.05)" fill="#262626" stroke="#262626" textLength="12.47" lengthAdjust="spacingAndGlyphs">0.06</text>
<text transform="translate(121.62 250.13) rotate(0.05)" fill="#262626" stroke="#262626" textLength="12.47" lengthAdjust="spacingAndGlyphs">0.02</text>
<text transform="translate(143.95 250.13) rotate(0.05)" fill="#262626" stroke="#262626" textLength="12.47" lengthAdjust="spacingAndGlyphs">0.06</text>
<text transform="translate(163.93 250.13) rotate(0.05)" fill="#ffffff" stroke="#ffffff" textLength="17.16" lengthAdjust="spacingAndGlyphs">−0.38</text>
<text transform="translate(188.61 250.13) rotate(0.05)" fill="#ffffff" stroke="#ffffff" textLength="12.47" lengthAdjust="spacingAndGlyphs">0.47</text>
<text transform="translate(208.59 250.13) rotate(0.05)" fill="#262626" stroke="#262626" textLength="17.16" lengthAdjust="spacingAndGlyphs">−0.31</text>
<text transform="translate(230.92 250.13) rotate(0.05)" fill="#262626" stroke="#262626" textLength="17.16" lengthAdjust="spacingAndGlyphs">−0.23</text>
<text transform="translate(255.60 250.13) rotate(0.05)" fill="#ffffff" stroke="#ffffff" textLength="12.47" lengthAdjust="spacingAndGlyphs">0.62</text>
<text transform="translate(277.93 250.13) rotate(0.05)" fill="#ffffff" stroke="#ffffff" textLength="12.47" lengthAdjust="spacingAndGlyphs">1.00</text>
<text transform="translate(297.91 250.13) rotate(0.05)" fill="#ffffff" stroke="#ffffff" textLength="17.16" lengthAdjust="spacingAndGlyphs">−0.82</text>
<text transform="translate(320.24 250.13) rotate(0.05)" fill="#262626" stroke="#262626" textLength="17.16" lengthAdjust="spacingAndGlyphs">−0.27</text>
<text transform="translate(342.57 250.13) rotate(0.05)" fill="#262626" stroke="#262626" textLength="17.16" lengthAdjust="spacingAndGlyphs">−0.06</text>
<text transform="translate(367.25 250.13) rotate(0.05)" fill="#262626" stroke="#262626" textLength="12.47" lengthAdjust="spacingAndGlyphs">0.27</text>
<text transform="translate(387.23 250.13) rotate(0.05)" fill="#262626" stroke="#262626" textLength="17.16" lengthAdjust="spacingAndGlyphs">−0.01</text>
<text transform="translate(54.63 272.49) rotate(0.05)" fill="#262626" stroke="#262626" textLength="12.47" lengthAdjust="spacingAndGlyphs">0.07</text>
<text transform="translate(74.61 272.49) rotate(0.05)" fill="#ffffff" stroke="#ffffff" textLength="17.16" lengthAdjust="spacingAndGlyphs">−0.42</text>
<text transform="translate(99.29 272.49) rotate(0.05)" fill="#262626" stroke="#262626" textLength="12.47" lengthAdjust="spacingAndGlyphs">0.10</text>
<text transform="translate(121.62 272.49) rotate(0.05)" fill="#262626" stroke="#262626" textLength="12.47" lengthAdjust="spacingAndGlyphs">0.02</text>
<text transform="translate(141.60 272.49) rotate(0.05)" fill="#262626" stroke="#262626" textLength="17.16" lengthAdjust="spacingAndGlyphs">−0.08</text>
<text transform="translate(166.28 272.49) rotate(0.05)" fill="#262626" stroke="#262626" textLength="12.47" lengthAdjust="spacingAndGlyphs">0.29</text>
<text transform="translate(186.26 272.49) rotate(0.05)" fill="#262626" stroke="#262626" textLength="17.16" lengthAdjust="spacingAndGlyphs">−0.23</text>
<text transform="translate(210.94 272.49) rotate(0.05)" fill="#262626" stroke="#262626" textLength="12.47" lengthAdjust="spacingAndGlyphs">0.14</text>
<text transform="translate(230.92 272.49) rotate(0.05)" fill="#262626" stroke="#262626" textLength="17.16" lengthAdjust="spacingAndGlyphs">−0.04</text>
<text transform="translate(253.25 272.49) rotate(0.05)" fill="#ffffff" stroke="#ffffff" textLength="17.16" lengthAdjust="spacingAndGlyphs">−0.46</text>
<text transform="translate(275.58 272.49) rotate(0.05)" fill="#ffffff" stroke="#ffffff" textLength="17.16" lengthAdjust="spacingAndGlyphs">−0.82</text>
<text transform="translate(300.26 272.49) rotate(0.05)" fill="#ffffff" stroke="#ffffff" textLength="12.47" lengthAdjust="spacingAndGlyphs">1.00</text>
<text transform="translate(322.59 272.49) rotate(0.05)" fill="#262626" stroke="#262626" textLength="12.47" lengthAdjust="spacingAndGlyphs">0.22</text>
<text transform="translate(344.92 272.49) rotate(0.05)" fill="#262626" stroke="#262626" textLength="12.47" lengthAdjust="spacingAndGlyphs">0.09</text>
<text transform="translate(364.90 272.49) rotate(0.05)" fill="#262626" stroke="#262626" textLength="17.16" lengthAdjust="spacingAndGlyphs">−0.17</text>
<text transform="translate(387.23 272.49) rotate(0.05)" fill="#262626" stroke="#262626" textLength="17.16" lengthAdjust="spacingAndGlyphs">−0.05</text>
<text transform="translate(54.63 294.85) rotate(0.05)" fill="#262626" stroke="#262626" textLength="12.47" lengthAdjust="spacingAndGlyphs">0.10</text>
<text transform="translate(74.61 294.85) rotate(0.05)" fill="#262626" stroke="#262626" textLength="17.16" lengthAdjust="spacingAndGlyphs">−0.15</text>
<text transform="translate(99.29 294.85) rotate(0.05)" fill="#262626" stroke="#262626" textLength="12.47" lengthAdjust="spacingAndGlyphs">0.16</text>
<text transform="translate(121.62 294.85) rotate(0.05)" fill="#262626" stroke="#262626" textLength="12.47" lengthAdjust="spacingAndGlyphs">0.15</text>
<text transform="translate(143.95 294.85) rotate(0.05)" fill="#262626" stroke="#262626" textLength="12.47" lengthAdjust="spacingAndGlyphs">0.04</text>
<text transform="translate(166.28 294.85) rotate(0.05)" fill="#262626" stroke="#262626" textLength="12.47" lengthAdjust="spacingAndGlyphs">0.20</text>
<text transform="translate(186.26 294.85) rotate(0.05)" fill="#262626" stroke="#262626" textLength="17.16" lengthAdjust="spacingAndGlyphs">−0.19</text>
<text transform="translate(210.94 294.85) rotate(0.05)" fill="#262626" stroke="#262626" textLength="12.47" lengthAdjust="spacingAndGlyphs">0.09</text>
<text transform="translate(230.92 294.85) rotate(0.05)" fill="#262626" stroke="#262626" textLength="17.16" lengthAdjust="spacingAndGlyphs">−0.01</text>
<text transform="translate(253.25 294.85) rotate(0.05)" fill="#262626" stroke="#262626" textLength="17.16" lengthAdjust="spacingAndGlyphs">−0.25</text>
<text transform="translate(275.58 294.85) rotate(0.05)" fill="#262626" stroke="#262626" textLength="17.16" lengthAdjust="spacingAndGlyphs">−0.27</text>
<text transform="translate(300.26 294.85) rotate(0.05)" fill="#262626" stroke="#262626" textLength="12.47" lengthAdjust="spacingAndGlyphs">0.22</text>
<text transform="translate(322.59 294.85) rotate(0.05)" fill="#ffffff" stroke="#ffffff" textLength="12.47" lengthAdjust="spacingAndGlyphs">1.00</text>
<text transform="translate(344.92 294.85) rotate(0.05)" fill="#262626" stroke="#262626" textLength="12.47" lengthAdjust="spacingAndGlyphs">0.03</text>
<text transform="translate(364.90 294.85) rotate(0.05)" fill="#262626" stroke="#262626" textLength="17.16" lengthAdjust="spacingAndGlyphs">−0.03</text>
<text transform="translate(389.58 294.85) rotate(0.05)" fill="#262626" stroke="#262626" textLength="12.47" lengthAdjust="spacingAndGlyphs">0.03</text>
<text transform="translate(52.28 317.21) rotate(0.05)" fill="#262626" stroke="#262626" textLength="17.16" lengthAdjust="spacingAndGlyphs">−0.17</text>
<text transform="translate(74.61 317.21) rotate(0.05)" fill="#262626" stroke="#262626" textLength="17.16" lengthAdjust="spacingAndGlyphs">−0.26</text>
<text transform="translate(99.29 317.21) rotate(0.05)" fill="#262626" stroke="#262626" textLength="12.47" lengthAdjust="spacingAndGlyphs">0.21</text>
<text transform="translate(119.27 317.21) rotate(0.05)" fill="#262626" stroke="#262626" textLength="17.16" lengthAdjust="spacingAndGlyphs">−0.05</text>
<text transform="translate(143.95 317.21) rotate(0.05)" fill="#262626" stroke="#262626" textLength="12.47" lengthAdjust="spacingAndGlyphs">0.11</text>
<text transform="translate(163.93 317.21) rotate(0.05)" fill="#262626" stroke="#262626" textLength="17.16" lengthAdjust="spacingAndGlyphs">−0.30</text>
<text transform="translate(188.61 317.21) rotate(0.05)" fill="#262626" stroke="#262626" textLength="12.47" lengthAdjust="spacingAndGlyphs">0.18</text>
<text transform="translate(208.59 317.21) rotate(0.05)" fill="#262626" stroke="#262626" textLength="17.16" lengthAdjust="spacingAndGlyphs">−0.27</text>
<text transform="translate(230.92 317.21) rotate(0.05)" fill="#262626" stroke="#262626" textLength="17.16" lengthAdjust="spacingAndGlyphs">−0.16</text>
<text transform="translate(253.25 317.21) rotate(0.05)" fill="#262626" stroke="#262626" textLength="17.16" lengthAdjust="spacingAndGlyphs">−0.16</text>
<text transform="translate(275.58 317.21) rotate(0.05)" fill="#262626" stroke="#262626" textLength="17.16" lengthAdjust="spacingAndGlyphs">−0.06</text>
<text transform="translate(300.26 317.21) rotate(0.05)" fill="#262626" stroke="#262626" textLength="12.47" lengthAdjust="spacingAndGlyphs">0.09</text>
<text transform="translate(322.59 317.21) rotate(0.05)" fill="#262626" stroke="#262626" textLength="12.47" lengthAdjust="spacingAndGlyphs">0.03</text>
<text transform="translate(344.92 317.21) rotate(0.05)" fill="#ffffff" stroke="#ffffff" textLength="12.47" lengthAdjust="spacingAndGlyphs">1.00</text>
<text transform="translate(364.90 317.21) rotate(0.05)" fill="#262626" stroke="#262626" textLength="17.16" lengthAdjust="spacingAndGlyphs">−0.09</text>
<text transform="translate(389.58 317.21) rotate(0.05)" fill="#262626" stroke="#262626" textLength="12.47" lengthAdjust="spacingAndGlyphs">0.04</text>
<text transform="translate(54.63 339.57) rotate(0.05)" fill="#262626" stroke="#262626" textLength="12.47" lengthAdjust="spacingAndGlyphs">0.07</text>
<text transform="translate(74.61 339.57) rotate(0.05)" fill="#262626" stroke="#262626" textLength="17.16" lengthAdjust="spacingAndGlyphs">−0.12</text>
<text transform="translate(99.29 339.57) rotate(0.05)" fill="#262626" stroke="#262626" textLength="12.47" lengthAdjust="spacingAndGlyphs">0.21</text>
<text transform="translate(119.27 339.57) rotate(0.05)" fill="#262626" stroke="#262626" textLength="17.16" lengthAdjust="spacingAndGlyphs">−0.02</text>
<text transform="translate(143.95 339.57) rotate(0.05)" fill="#262626" stroke="#262626" textLength="12.47" lengthAdjust="spacingAndGlyphs">0.00</text>
<text transform="translate(163.93 339.57) rotate(0.05)" fill="#262626" stroke="#262626" textLength="17.16" lengthAdjust="spacingAndGlyphs">−0.06</text>
<text transform="translate(188.61 339.57) rotate(0.05)" fill="#262626" stroke="#262626" textLength="12.47" lengthAdjust="spacingAndGlyphs">0.17</text>
<text transform="translate(208.59 339.57) rotate(0.05)" fill="#262626" stroke="#262626" textLength="17.16" lengthAdjust="spacingAndGlyphs">−0.05</text>
<text transform="translate(230.92 339.57) rotate(0.05)" fill="#262626" stroke="#262626" textLength="17.16" lengthAdjust="spacingAndGlyphs">−0.05</text>
<text transform="translate(255.60 339.57) rotate(0.05)" fill="#262626" stroke="#262626" textLength="12.47" lengthAdjust="spacingAndGlyphs">0.22</text>
<text transform="translate(277.93 339.57) rotate(0.05)" fill="#262626" stroke="#262626" textLength="12.47" lengthAdjust="spacingAndGlyphs">0.27</text>
<text transform="translate(297.91 339.57) rotate(0.05)" fill="#262626" stroke="#262626" textLength="17.16" lengthAdjust="spacingAndGlyphs">−0.17</text>
<text transform="translate(320.24 339.57) rotate(0.05)" fill="#262626" stroke="#262626" textLength="17.16" lengthAdjust="spacingAndGlyphs">−0.03</text>
<text transform="translate(342.57 339.57) rotate(0.05)" fill="#262626" stroke="#262626" textLength="17.16" lengthAdjust="spacingAndGlyphs">−0.09</text>
<text transform="translate(367.25 339.57) rotate(0.05)" fill="#ffffff" stroke="#ffffff" textLength="12.47" lengthAdjust="spacingAndGlyphs">1.00</text>
<text transform="translate(389.58 339.57) rotate(0.05)" fill="#262626" stroke="#262626" textLength="12.47" lengthAdjust="spacingAndGlyphs">0.07</text>
<text transform="translate(54.63 361.93) rotate(0.05)" fill="#262626" stroke="#262626" textLength="12.47" lengthAdjust="spacingAndGlyphs">0.15</text>
<text transform="translate(74.61 361.93) rotate(0.05)" fill="#262626" stroke="#262626" textLength="17.16" lengthAdjust="spacingAndGlyphs">−0.22</text>
<text transform="translate(99.29 361.93) rotate(0.05)" fill="#262626" stroke="#262626" textLength="12.47" lengthAdjust="spacingAndGlyphs">0.26</text>
<text transform="translate(119.27 361.93) rotate(0.05)" fill="#262626" stroke="#262626" textLength="17.16" lengthAdjust="spacingAndGlyphs">−0.01</text>
<text transform="translate(143.95 361.93) rotate(0.05)" fill="#ffffff" stroke="#ffffff" textLength="12.47" lengthAdjust="spacingAndGlyphs">0.52</text>
<text transform="translate(163.93 361.93) rotate(0.05)" fill="#262626" stroke="#262626" textLength="17.16" lengthAdjust="spacingAndGlyphs">−0.10</text>
<text transform="translate(186.26 361.93) rotate(0.05)" fill="#262626" stroke="#262626" textLength="17.16" lengthAdjust="spacingAndGlyphs">−0.06</text>
<text transform="translate(208.59 361.93) rotate(0.05)" fill="#262626" stroke="#262626" textLength="17.16" lengthAdjust="spacingAndGlyphs">−0.15</text>
<text transform="translate(233.27 361.93) rotate(0.05)" fill="#262626" stroke="#262626" textLength="12.47" lengthAdjust="spacingAndGlyphs">0.00</text>
<text transform="translate(253.25 361.93) rotate(0.05)" fill="#262626" stroke="#262626" textLength="17.16" lengthAdjust="spacingAndGlyphs">−0.19</text>
<text transform="translate(275.58 361.93) rotate(0.05)" fill="#262626" stroke="#262626" textLength="17.16" lengthAdjust="spacingAndGlyphs">−0.01</text>
<text transform="translate(297.91 361.93) rotate(0.05)" fill="#262626" stroke="#262626" textLength="17.16" lengthAdjust="spacingAndGlyphs">−0.05</text>
<text transform="translate(322.59 361.93) rotate(0.05)" fill="#262626" stroke="#262626" textLength="12.47" lengthAdjust="spacingAndGlyphs">0.03</text>
<text transform="translate(344.92 361.93) rotate(0.05)" fill="#262626" stroke="#262626" textLength="12.47" lengthAdjust="spacingAndGlyphs">0.04</text>
<text transform="translate(367.25 361.93) rotate(0.05)" fill="#262626" stroke="#262626" textLength="12.47" lengthAdjust="spacingAndGlyphs">0.07</text>
<text transform="translate(389.58 361.93) rotate(0.05)" fill="#ffffff" stroke="#ffffff" textLength="12.47" lengthAdjust="spacingAndGlyphs">1.00</text>
</g>
<g stroke="#262626" stroke-width="0.6">
<line x1="47.60" y1="24.68" x2="49.70" y2="24.68"/>
<line x1="47.60" y1="47.04" x2="49.70" y2="47.04"/>
<line x1="47.60" y1="69.40" x2="49.70" y2="69.40"/>
<line x1="47.60" y1="91.76" x2="49.70" y2="91.76"/>
<line x1="47.60" y1="114.12" x2="49.70" y2="114.12"/>
<line x1="47.60" y1="136.48" x2="49.70" y2="136.48"/>
<line x1="47.60" y1="158.84" x2="49.70" y2="158.84"/>
<line x1="47.60" y1="181.20" x2="49.70" y2="181.20"/>
<line x1="47.60" y1="203.56" x2="49.70" y2="203.56"/>
<line x1="47.60" y1="225.92" x2="49.70" y2="225.92"/>
<line x1="47.60" y1="248.28" x2="49.70" y2="248.28"/>
<line x1="47.60" y1="270.64" x2="49.70" y2="270.64"/>
<line x1="47.60" y1="293.00" x2="49.70" y2="293.00"/>
<line x1="47.60" y1="315.36" x2="49.70" y2="315.36"/>
<line x1="47.60" y1="337.72" x2="49.70" y2="337.72"/>
<line x1="47.60" y1="360.08" x2="49.70" y2="360.08"/>
</g>
<g font-size="6.20" fill="#262626" stroke="#262626" stroke-width="0.10" filter="url(#tb)">
<text transform="translate(28.76 26.43) rotate(0.05)" textLength="16.59" lengthAdjust="spacingAndGlyphs">poem</text>
<text transform="translate(21.06 48.79) rotate(0.05)" textLength="24.29" lengthAdjust="spacingAndGlyphs">log freq.</text>
<text transform="translate(10.46 71.15) rotate(0.05)" textLength="34.89" lengthAdjust="spacingAndGlyphs">word length</text>
<text transform="translate(8.77 93.51) rotate(0.05)" textLength="36.58" lengthAdjust="spacingAndGlyphs">text position</text>
<text transform="translate(9.76 115.87) rotate(0.05)" textLength="35.59" lengthAdjust="spacingAndGlyphs">line position</text>
<text transform="translate(14.50 138.23) rotate(0.05)" textLength="30.85" lengthAdjust="spacingAndGlyphs">Valence_M</text>
<text transform="translate(15.97 160.59) rotate(0.05)" textLength="29.38" lengthAdjust="spacingAndGlyphs">arousal_M</text>
<text transform="translate(4.95 182.95) rotate(0.05)" textLength="40.40" lengthAdjust="spacingAndGlyphs">dominance_M</text>
<text transform="translate(20.72 205.31) rotate(0.05)" textLength="24.63" lengthAdjust="spacingAndGlyphs">origin_M</text>
<text transform="translate(2.65 227.67) rotate(0.05)" textLength="42.70" lengthAdjust="spacingAndGlyphs">significance_M</text>
<text transform="translate(2.09 250.03) rotate(0.05)" textLength="43.26" lengthAdjust="spacingAndGlyphs">concretness_M</text>
<text transform="translate(4.81 272.39) rotate(0.05)" textLength="40.54" lengthAdjust="spacingAndGlyphs">imegability_M</text>
<text transform="translate(16.77 294.75) rotate(0.05)" textLength="28.58" lengthAdjust="spacingAndGlyphs">metaphor</text>
<text transform="translate(7.84 317.11) rotate(0.05)" textLength="37.51" lengthAdjust="spacingAndGlyphs">enumeration</text>
<text transform="translate(26.58 339.47) rotate(0.05)" textLength="18.77" lengthAdjust="spacingAndGlyphs">rhyme</text>
<text transform="translate(4.52 361.83) rotate(0.05)" textLength="40.83" lengthAdjust="spacingAndGlyphs">enjambement</text>
</g>
<g stroke="#262626" stroke-width="0.6">
<line x1="60.87" y1="371.26" x2="60.87" y2="373.26"/>
<line x1="83.19" y1="371.26" x2="83.19" y2="373.26"/>
<line x1="105.53" y1="371.26" x2="105.53" y2="373.26"/>
<line x1="127.86" y1="371.26" x2="127.86" y2="373.26"/>
<line x1="150.19" y1="371.26" x2="150.19" y2="373.26"/>
<line x1="172.51" y1="371.26" x2="172.51" y2="373.26"/>
<line x1="194.84" y1="371.26" x2="194.84" y2="373.26"/>
<line x1="217.18" y1="371.26" x2="217.18" y2="373.26"/>
<line x1="239.50" y1="371.26" x2="239.50" y2="373.26"/>
<line x1="261.83" y1="371.26" x2="261.83" y2="373.26"/>
<line x1="284.16" y1="371.26" x2="284.16" y2="373.26"/>
<line x1="306.49" y1="371.26" x2="306.49" y2="373.26"/>
<line x1="328.82" y1="371.26" x2="328.82" y2="373.26"/>
<line x1="351.15" y1="371.26" x2="351.15" y2="373.26"/>
<line x1="373.48" y1="371.26" x2="373.48" y2="373.26"/>
<line x1="395.81" y1="371.26" x2="395.81" y2="373.26"/>
</g>
<g font-size="6.20" fill="#262626" stroke="#262626" stroke-width="0.10" filter="url(#tb)">
<text transform="translate(59.77 379.30) rotate(-45)" x="-16.59" y="0" textLength="16.59" lengthAdjust="spacingAndGlyphs">poem</text>
<text transform="translate(82.09 379.30) rotate(-45)" x="-24.29" y="0" textLength="24.29" lengthAdjust="spacingAndGlyphs">log freq.</text>
<text transform="translate(104.43 379.30) rotate(-45)" x="-34.89" y="0" textLength="34.89" lengthAdjust="spacingAndGlyphs">word length</text>
<text transform="translate(126.76 379.30) rotate(-45)" x="-36.58" y="0" textLength="36.58" lengthAdjust="spacingAndGlyphs">text position</text>
<text transform="translate(149.09 379.30) rotate(-45)" x="-35.59" y="0" textLength="35.59" lengthAdjust="spacingAndGlyphs">line position</text>
<text transform="translate(171.41 379.30) rotate(-45)" x="-30.85" y="0" textLength="30.85" lengthAdjust="spacingAndGlyphs">Valence_M</text>
<text transform="translate(193.74 379.30) rotate(-45)" x="-29.38" y="0" textLength="29.38" lengthAdjust="spacingAndGlyphs">arousal_M</text>
<text transform="translate(216.08 379.30) rotate(-45)" x="-40.40" y="0" textLength="40.40" lengthAdjust="spacingAndGlyphs">dominance_M</text>
<text transform="translate(238.41 379.30) rotate(-45)" x="-24.63" y="0" textLength="24.63" lengthAdjust="spacingAndGlyphs">origin_M</text>
<text transform="translate(260.73 379.30) rotate(-45)" x="-42.70" y="0" textLength="42.70" lengthAdjust="spacingAndGlyphs">significance_M</text>
<text transform="translate(283.06 379.30) rotate(-45)" x="-43.26" y="0" textLength="43.26" lengthAdjust="spacingAndGlyphs">concretness_M</text>
<text transform="translate(305.39 379.30) rotate(-45)" x="-40.54" y="0" textLength="40.54" lengthAdjust="spacingAndGlyphs">imegability_M</text>
<text transform="translate(327.72 379.30) rotate(-45)" x="-28.58" y="0" textLength="28.58" lengthAdjust="spacingAndGlyphs">metaphor</text>
<text transform="translate(350.05 379.30) rotate(-45)" x="-37.51" y="0" textLength="37.51" lengthAdjust="spacingAndGlyphs">enumeration</text>
<text transform="translate(372.38 379.30) rotate(-45)" x="-18.77" y="0" textLength="18.77" lengthAdjust="spacingAndGlyphs">rhyme</text>
<text transform="translate(394.71 379.30) rotate(-45)" x="-40.83" y="0" textLength="40.83" lengthAdjust="spacingAndGlyphs">enjambement</text>
</g>
<defs><linearGradient id="cb" x1="0" y1="0" x2="0" y2="1"><stop offset="0.0000" stop-color="#31004b"/><stop offset="0.0312" stop-color="#3e035d"/><stop offset="0.0625" stop-color="#4d1072"/><stop offset="0.0938" stop-color="#5b1e85"/><stop offset="0.1250" stop-color="#693494"/><stop offset="0.1562" stop-color="#754e9f"/><stop offset="0.1875" stop-color="#8067aa"/><stop offset="0.2188" stop-color="#8e7db5"/><stop offset="0.2500" stop-color="#9d8fc1"/><stop offset="0.2812" stop-color="#aca0cd"/><stop offset="0.3125" stop-color="#bab1d7"/><stop offset="0.3438" stop-color="#c4c0de"/><stop offset="0.3750" stop-color="#cfcee6"/><stop offset="0.4062" stop-color="#d9dced"/><stop offset="0.4375" stop-color="#e3e5f0"/><stop offset="0.4688" stop-color="#edeef4"/><stop offset="0.5000" stop-color="#f7f7f7"/><stop offset="0.5312" stop-color="#fdf1e4"/><stop offset="0.5625" stop-color="#ffead0"/><stop offset="0.5938" stop-color="#ffe3bb"/><stop offset="0.6250" stop-color="#ffd8a1"/><stop offset="0.6562" stop-color="#ffcb86"/><stop offset="0.6875" stop-color="#ffbf6a"/><stop offset="0.7188" stop-color="#ffb04d"/><stop offset="0.7500" stop-color="#ff9f2f"/><stop offset="0.7812" stop-color="#ff8e07"/><stop offset="0.8125" stop-color="#f57e00"/><stop offset="0.8438" stop-color="#e77000"/><stop offset="0.8750" stop-color="#d86300"/><stop offset="0.9062" stop-color="#c95600"/><stop offset="0.9375" stop-color="#b64c00"/><stop offset="0.9688" stop-color="#a44200"/><stop offset="1.0000" stop-color="#923800"/></linearGradient></defs>
<rect x="429.15" y="5.10" width="18.95" height="373.70" fill="url(#cb)"/>
<g stroke="#262626" stroke-width="0.6">
<line x1="448.10" y1="5.10" x2="450.40" y2="5.10"/>
<line x1="448.10" y1="56.69" x2="450.40" y2="56.69"/>
<line x1="448.10" y1="108.28" x2="450.40" y2="108.28"/>
<line x1="448.10" y1="159.86" x2="450.40" y2="159.86"/>
<line x1="448.10" y1="211.45" x2="450.40" y2="211.45"/>
<line x1="448.10" y1="263.04" x2="450.40" y2="263.04"/>
<line x1="448.10" y1="314.63" x2="450.40" y2="314.63"/>
<line x1="448.10" y1="366.21" x2="450.40" y2="366.21"/>
</g>
<g font-size="6.30" fill="#262626" stroke="#262626" stroke-width="0.10" filter="url(#tb)">
<text transform="translate(452.50 7.70) rotate(0.05)" textLength="12.58" lengthAdjust="spacingAndGlyphs">1.00</text>
<text transform="translate(452.50 59.29) rotate(0.05)" textLength="12.58" lengthAdjust="spacingAndGlyphs">0.75</text>
<text transform="translate(452.50 110.88) rotate(0.05)" textLength="12.58" lengthAdjust="spacingAndGlyphs">0.50</text>
<text transform="translate(452.50 162.46) rotate(0.05)" textLength="12.58" lengthAdjust="spacingAndGlyphs">0.25</text>
<text transform="translate(452.50 214.05) rotate(0.05)" textLength="12.58" lengthAdjust="spacingAndGlyphs">0.00</text>
<text transform="translate(452.50 265.64) rotate(0.05)" textLength="14.62" lengthAdjust="spacingAndGlyphs">-0.25</text>
<text transform="translate(452.50 317.23) rotate(0.05)" textLength="14.62" lengthAdjust="spacingAndGlyphs">-0.50</text>
<text transform="translate(452.50 368.81) rotate(0.05)" textLength="14.62" lengthAdjust="spacingAndGlyphs">-0.75</text>
</g>
</svg></body></html>
